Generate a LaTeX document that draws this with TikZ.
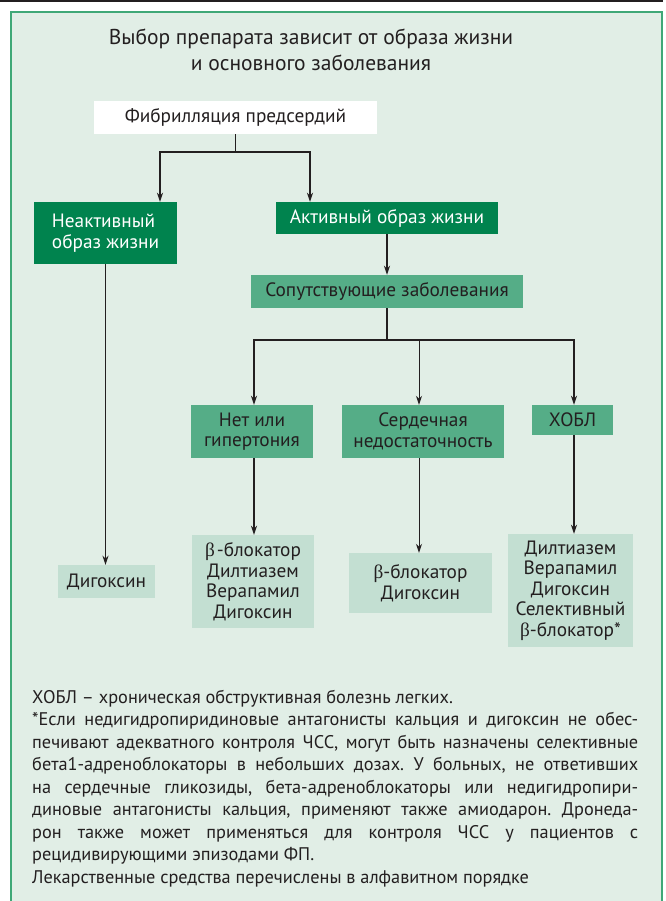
\documentclass[tikz,border=0pt]{standalone}
\usepackage{fontspec}
\setmainfont{PT Sans}
\newfontfamily\grk{Liberation Serif}
\usetikzlibrary{arrows.meta,calc}

\definecolor{frame}{HTML}{3FA877}
\definecolor{paper}{HTML}{E1EEE6}
\definecolor{dark}{HTML}{00834E}
\definecolor{mid}{HTML}{55AD87}
\definecolor{pale}{HTML}{C3DFD2}
\definecolor{ink}{HTML}{231F20}

\newcommand{\grkb}{{\grk β}}

\begin{document}
\begin{tikzpicture}[x=1pt,y=-1pt,
    box/.style={inner sep=0pt, text=ink, align=center,
        font=\fontsize{19.3}{20.5}\selectfont},
    dk/.style={box, fill=dark, text=white},
    md/.style={box, fill=mid},
    lt/.style={box, fill=pale},
    wire/.style={draw=ink, line width=1.8pt},
    arr/.style={wire, -{Stealth[length=9pt,width=6pt]}},
    arrthin/.style={draw=ink, line width=1pt, -{Stealth[length=9pt,width=6pt]}}]

    \useasboundingbox (0,0) rectangle (665,901);
    \draw[draw=frame, fill=paper, line width=2pt] (11,12) rectangle (662,915);
    \draw[ink, line width=1.6pt] (0,1.2) -- (663,1.2);

    \node[box, font=\fontsize{21.5}{26}\selectfont] (title) at (311,50)
        {Выбор препарата зависит от образа жизни\\и основного заболевания};

    \node[box, fill=white, minimum width=283pt, minimum height=33pt] (fib) at (235.5,117.5) {Фибрилляция предсердий};
    \node[dk, align=left, minimum width=143pt, minimum height=62pt] (inact) at (105.5,233) {Неактивный\\образ жизни};
    \node[dk, minimum width=222pt, minimum height=32pt] (act) at (387,218) {Активный образ жизни};
    \node[md, minimum width=272pt, minimum height=33pt] (comorb) at (387,291.5) {Сопутствующие заболевания};

    \node[md, minimum width=122pt, minimum height=53pt] (hyp) at (252,431.5) {Нет или\\гипертония};
    \node[md, minimum width=162pt, minimum height=53pt] (hf) at (423,431.5) {Сердечная\\недостаточность};
    \node[md, minimum width=81pt, minimum height=30pt] (copd) at (572.5,420) {ХОБЛ};

    \node[lt, minimum width=97pt, minimum height=33pt] (dig) at (106.5,581.5) {Дигоксин};
    \node[lt, minimum width=122pt, minimum height=93pt] (drugsA) at (253,581.5)
        {\grkb\kern2pt-блокатор\\Дилтиазем\\Верапамил\\Дигоксин};
    \node[lt, minimum width=143pt, minimum height=60pt] (drugsB) at (420.5,583)
        {\grkb-блокатор\\Дигоксин};
    \node[lt, minimum width=125pt, minimum height=113pt] (drugsC) at (570.5,590.5)
        {Дилтиазем\\Верапамил\\Дигоксин\\Селективный\\\grkb-блокатор*};

    % first split
    \coordinate (jA) at (160,152);
    \coordinate (jB) at (310,152);
    \draw[arr] (fib.south) |- (jA) -- (jA |- inact.north);
    \draw[arr] (fib.south) |- (jB) -- (jB |- act.north);
    \draw[arr] (act) -- (comorb);
    \draw[arr] (inact.south) -- (inact.south |- dig.north);

    % second split
    \coordinate (jC) at (254,340);
    \coordinate (jD) at (419,340);
    \coordinate (jE) at (574,340);
    \draw[arr] (comorb.south) |- (jC) -- (jC |- hyp.north);
    \draw[arr] (comorb.south) |- (jE) -- (jE |- copd.north);
    \draw[arrthin] (jD) -- (jD |- hf.north);
    \draw[arr] (jC |- hyp.south) -- (jC |- drugsA.north);
    \draw[arrthin] (jD |- hf.south) -- (jD |- drugsB.north);
    \draw[arr] (jE |- copd.south) -- (jE |- drugsC.north);

    \node[text=ink, font=\fontsize{18.3}{22.5}\selectfont, text width=606pt, align=justify,
        inner sep=0pt, anchor=north west] (note) at (32,690)
        {\hyphenpenalty=10000 \exhyphenpenalty=10000 \parindent=0pt \frenchspacing
        ХОБЛ – хроническая обструктивная болезнь легких.\par
        *Если недигидропиридиновые антагонисты кальция и дигоксин не обес-\linebreak
        печивают адекватного контроля ЧСС, могут быть назначены селективные\linebreak
        бета1-адреноблокаторы в небольших дозах. У больных, не ответивших\linebreak
        на сердечные гликозиды, бета-адреноблокаторы или недигидропири-\linebreak
        диновые антагонисты кальция, применяют также амиодарон. Дронеда-\linebreak
        рон также может применяться для контроля ЧСС у пациентов с\linebreak
        рецидивирующими эпизодами ФП.\par
        Лекарственные средства перечислены в алфавитном порядке\par};
\end{tikzpicture}
\end{document}
